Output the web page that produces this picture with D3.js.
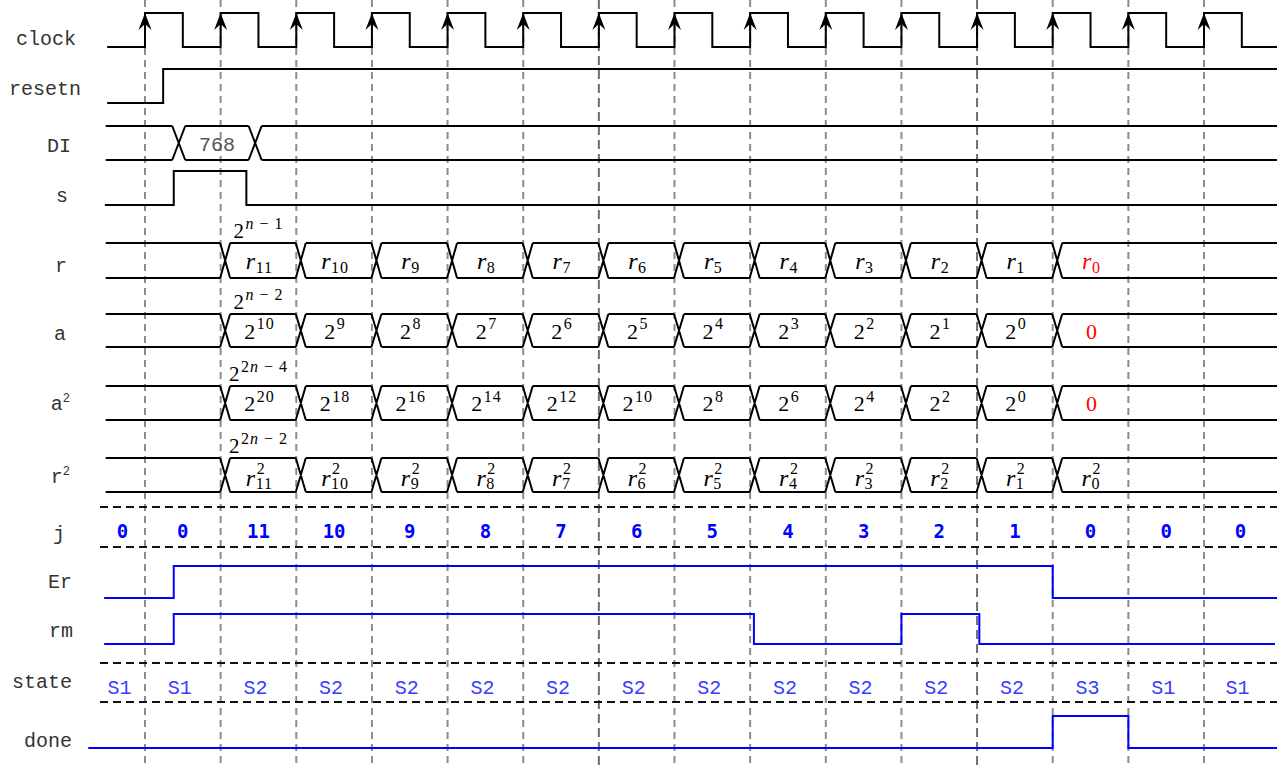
<!DOCTYPE html>
<html>
<head>
<meta charset="utf-8">
<script src="https://cdn.jsdelivr.net/npm/d3@7"></script>
<style>
  body { margin: 0; background: #fff; }
  svg { display: block; }
  text { white-space: pre; }
</style>
</head>
<body>
<div id="chart"></div>
<script>
"use strict"

// --- data (time in clock periods, 0 = first rising edge)
const cycles = 15
const resetnWave = [[-0.5, 0], [0.24, 1]]
const sWave = [[-0.53, 0], [0.38, 1], [1.34, 0]]
const erWave = [[-0.54, 0], [0.38, 1], [12.0, 0]]
const rmWave = [[-0.54, 0], [0.38, 1], [8.05, 0], [10.0, 1], [11.03, 0]]
const doneWave = [[-0.75, 0], [12.0, 1], [13.0, 0]]
const diChanges = [0.36, 1.37]
const diValue = "768"

const busChanges = [1, 2, 3, 4, 5, 6, 7, 8, 9, 10, 11, 12]
const rSubs = ["11", "10", "9", "8", "7", "6", "5", "4", "3", "2", "1", "0"]
const aPowers = ["10", "9", "8", "7", "6", "5", "4", "3", "2", "1", "0"]
const a2Powers = ["20", "18", "16", "14", "12", "10", "8", "6", "4", "2", "0"]
const initPowers = ["n − 1", "n − 2", "2n − 4", "2n − 2"]

const jValues = [0, 0, 11, 10, 9, 8, 7, 6, 5, 4, 3, 2, 1, 0, 0, 0]
const states = ["S1", "S1", "S2", "S2", "S2", "S2", "S2", "S2", "S2", "S2", "S2", "S2", "S2", "S3", "S1", "S1"]

const signalNames = ["clock", "resetn", "DI", "s", "r", "a", "a2", "r2", "j", "Er", "rm", "state", "done"]

// --- layout
const W = 1277, H = 768
const monoFont = "'Liberation Mono', 'Courier New', monospace"
const mathFont = "'Liberation Serif', 'DejaVu Serif', serif"
const blue = "#0000ff"

const labelPos = {
  clock: [76, 45], resetn: [81, 95], DI: [71, 152], s: [68, 202], r: [67, 272], a: [66, 340],
  a2: [70, 410], r2: [70, 483], j: [65, 540], Er: [72, 588], rm: [73, 637], state: [72, 688], done: [72, 747]
}

const x = d3.scaleLinear().domain([0, cycles - 1]).range([145, 1204])
const tEnd = x.invert(W)

const svg = d3.select("#chart").append("svg")
  .attr("width", W)
  .attr("height", H)
  .attr("viewBox", `0,0,${W},${H}`)

// clock edge guides
svg.append("g")
  .selectAll("line")
  .data(d3.range(cycles))
  .join("line")
    .attr("x1", d => x(d)).attr("x2", d => x(d))
    .attr("y1", 0).attr("y2", H)
    .attr("stroke", d => (d == 6 || d == 11) ? "#6e6e6e" : "#8c8c8c")
    .attr("stroke-width", 2)
    .attr("stroke-dasharray", d => (d == 6 || d == 11) ? "9,5" : "7,5")

// horizontal separators
svg.append("g")
  .selectAll("line")
  .data([507, 547, 663, 702])
  .join("line")
    .attr("x1", 100).attr("x2", W)
    .attr("y1", d => d).attr("y2", d => d)
    .attr("stroke", "#111")
    .attr("stroke-width", 2)
    .attr("stroke-dasharray", "8,5")

function digital(points, hi, lo, color, end) {
  const pts = points.concat([[end ?? tEnd, points[points.length - 1][1]]])
  const line = d3.line()
    .x(d => x(d[0]))
    .y(d => d[1] ? hi : lo)
    .curve(d3.curveStepAfter)
  svg.append("path")
    .attr("d", line(pts))
    .attr("fill", "none")
    .attr("stroke", color)
    .attr("stroke-width", 2)
}

function bus(top, bot, tStart, changes, cw, off) {
  const p = d3.path()
  let xs = x(tStart)
  changes.forEach(c => {
    const xc = x(c) + off
    p.moveTo(xs, top); p.lineTo(xc, top)
    p.moveTo(xs, bot); p.lineTo(xc, bot)
    p.moveTo(xc, top); p.lineTo(xc + cw, bot)
    p.moveTo(xc, bot); p.lineTo(xc + cw, top)
    xs = xc + cw
  })
  p.moveTo(xs, top); p.lineTo(W, top)
  p.moveTo(xs, bot); p.lineTo(W, bot)
  svg.append("path")
    .attr("d", p.toString())
    .attr("fill", "none")
    .attr("stroke", "#000")
    .attr("stroke-width", 2)
}

// math-ish label: base with optional sup / sub, centred on cx
function mathText(cx, y, d) {
  const size = d.size || (d.italic ? 24 : 22), small = 16
  const g = svg.append("g").attr("fill", d.color || "#000").attr("font-family", mathFont)
  const b = g.append("text")
    .attr("font-size", size)
    .style("font-style", d.italic ? "italic" : "normal")
    .text(d.base)
  const bw = b.node().getComputedTextLength()
  let w = bw
  const both = d.sub != null && d.sup != null
  if (d.sup != null) {
    const s = g.append("text")
      .attr("x", bw + 1.5)
      .attr("y", both ? -12.5 : -9.5)
      .attr("font-size", small)
      .attr("letter-spacing", 1)
    s.selectAll("tspan")
      .data(d.sup.split(/([a-z]+)/).filter(Boolean))
      .join("tspan")
        .style("font-style", t => /[a-z]/.test(t) ? "italic" : "normal")
        .text(t => t)
    w = Math.max(w, bw + 1.5 + s.node().getComputedTextLength())
  }
  if (d.sub != null) {
    const s = g.append("text")
      .attr("x", bw + 0.5)
      .attr("y", both ? 3 : 4)
      .attr("font-size", small)
      .attr("letter-spacing", 1)
      .text(d.sub)
    w = Math.max(w, bw + 0.5 + s.node().getComputedTextLength())
  }
  g.attr("transform", `translate(${cx - w / 2},${y})`)
}

// clock
const clockPts = [[-0.5, 0]]
d3.range(cycles).forEach(i => { clockPts.push([i, 1], [i + 0.5, 0]) })
digital(clockPts, 13, 47, "#000")
svg.append("g")
  .selectAll("path")
  .data(d3.range(cycles))
  .join("path")
    .attr("d", d => `M${x(d)},13 L${x(d) - 6.5},30 L${x(d)},24 L${x(d) + 6.5},30 Z`)
    .attr("fill", "#000")

digital(resetnWave, 69, 103, "#000")

// DI
bus(126, 160, -0.52, diChanges, 13, 0)
svg.append("text")
  .attr("x", (x(diChanges[0]) + 13 + x(diChanges[1])) / 2)
  .attr("y", 151)
  .attr("text-anchor", "middle")
  .attr("font-family", monoFont)
  .attr("font-size", 20)
  .attr("fill", "#555")
  .text(diValue)

digital(sWave, 171, 205, "#000")

// register buses
const busRows = [
  {top: 243, bot: 278, init: 0, vals: rSubs.map((s, i) => ({base: "r", italic: true, sub: s, color: i == rSubs.length - 1 ? "red" : "#000"}))},
  {top: 314, bot: 347, init: 1, vals: aPowers.map(p => ({base: "2", sup: p})).concat([{base: "0", color: "red"}])},
  {top: 386, bot: 420, init: 2, vals: a2Powers.map(p => ({base: "2", sup: p})).concat([{base: "0", color: "red"}])},
  {top: 458, bot: 492, init: 3, vals: rSubs.map(s => ({base: "r", italic: true, sub: s, sup: "2"})), shift: 3}
]
busRows.forEach(row => {
  bus(row.top, row.bot, -0.52, busChanges, 10, -0.5)
  const mid = (row.top + row.bot) / 2
  row.vals.forEach((v, i) => {
    mathText(x(busChanges[i] + 0.5) + 1, mid + 8 + (row.shift || 0), v)
  })
  mathText(x(busChanges[0] + 0.5), row.top - 5, {base: "2", sup: initPowers[row.init], size: 21})
})

// j and state rows
const mids = jValues.map((_, i) => {
  const a = i == 0 ? 100 : x(i - 1)
  const b = i == jValues.length - 1 ? W : x(i)
  return (a + b) / 2
})
svg.append("g")
  .selectAll("text")
  .data(jValues)
  .join("text")
    .attr("x", (d, i) => mids[i])
    .attr("y", 538)
    .attr("text-anchor", "middle")
    .attr("font-family", "'DejaVu Sans Mono', monospace")
    .attr("font-weight", "bold")
    .attr("font-size", 19)
    .attr("fill", blue)
    .text(d => d)

svg.append("g")
  .selectAll("text")
  .data(states)
  .join("text")
    .attr("x", (d, i) => mids[i] - 3)
    .attr("y", 694)
    .attr("text-anchor", "middle")
    .attr("font-family", monoFont)
    .attr("font-size", 20)
    .attr("fill", "#3a3aff")
    .text(d => d)

digital(erWave, 566, 598, blue)
digital(rmWave, 614, 644, blue, x.invert(1275))
digital(doneWave, 716, 748, blue)

// signal names
const names = svg.append("g")
  .selectAll("text")
  .data(signalNames)
  .join("text")
    .attr("x", d => labelPos[d][0])
    .attr("y", d => labelPos[d][1])
    .attr("text-anchor", "end")
    .attr("font-family", monoFont)
    .attr("font-size", 20)
    .attr("fill", "#333")
names.filter(d => d == "a2" || d == "r2")
  .each(function(d) {
    const t = d3.select(this)
    t.append("tspan").text(d[0])
    t.append("tspan").attr("dy", -8).attr("font-size", 12).text("2")
  })
names.filter(d => d != "a2" && d != "r2").text(d => d)
</script>
</body>
</html>
